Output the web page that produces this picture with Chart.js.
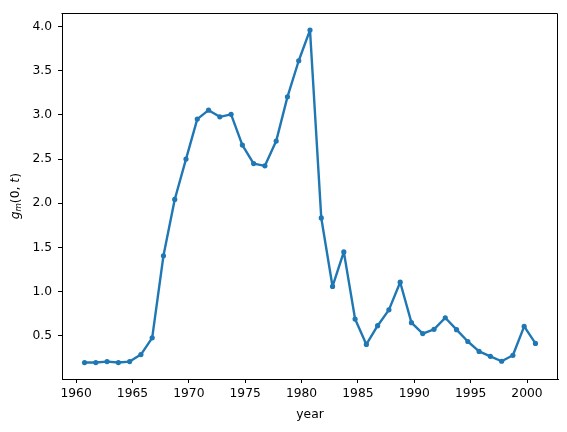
<!DOCTYPE html>
<html>
<head>
<meta charset="utf-8">
<script src="https://cdn.jsdelivr.net/npm/chart.js@4/dist/chart.umd.min.js"></script>
<style>
  html, body { margin: 0; padding: 0; background: #fff; }
  #wrap { width: 567px; height: 432px; }
</style>
</head>
<body>
<div id="wrap"><canvas id="chart" width="567" height="432"></canvas></div>
<script>
// data
const years = [1960.75, 1961.75, 1962.75, 1963.75, 1964.75, 1965.75, 1966.75, 1967.75, 1968.75, 1969.75,
               1970.75, 1971.75, 1972.75, 1973.75, 1974.75, 1975.75, 1976.75, 1977.75, 1978.75, 1979.75,
               1980.75, 1981.75, 1982.75, 1983.75, 1984.75, 1985.75, 1986.75, 1987.75, 1988.75, 1989.75,
               1990.75, 1991.75, 1992.75, 1993.75, 1994.75, 1995.75, 1996.75, 1997.75, 1998.75, 1999.75,
               2000.75];
const gm = [0.198, 0.198, 0.209, 0.198, 0.209, 0.288, 0.478, 1.406, 2.043, 2.50,
            2.952, 3.053, 2.978, 3.006, 2.658, 2.449, 2.423, 2.703, 3.204, 3.612,
            3.959, 1.834, 1.059, 1.45, 0.69, 0.403, 0.615, 0.794, 1.107, 0.649,
            0.526, 0.574, 0.705, 0.57, 0.436, 0.324, 0.268, 0.213, 0.28, 0.607,
            0.414];
const xTicks = [1960, 1965, 1970, 1975, 1980, 1985, 1990, 1995, 2000];
const yTicks = [0.5, 1.0, 1.5, 2.0, 2.5, 3.0, 3.5, 4.0];

const BLUE = '#1f77b4';
const FONT = 'DejaVu Sans';

// frame on top/right + y axis label with subscript
const extras = {
    id: 'extras',
    afterDraw(chart) {
        const { ctx, chartArea: a } = chart;
        ctx.save();
        ctx.strokeStyle = '#000';
        ctx.lineWidth = 1;
        ctx.beginPath();
        ctx.moveTo(Math.round(a.left) - 0.5, Math.round(a.top) + 0.5);
        ctx.lineTo(Math.round(a.right) - 0.5, Math.round(a.top) + 0.5);
        ctx.lineTo(Math.round(a.right) - 0.5, Math.round(a.bottom) + 0.5);
        ctx.stroke();

        // y label: g_m(0, t)
        ctx.translate(16, (a.top + a.bottom) / 2);
        ctx.rotate(-Math.PI / 2);
        ctx.fillStyle = '#000';
        ctx.textBaseline = 'middle';
        const parts = [
            { t: 'g', f: 'italic 12.3px ' + FONT, dy: 0 },
            { t: 'm', f: 'italic 8.6px ' + FONT, dy: 3 },
            { t: '(0, ', f: '12.3px ' + FONT, dy: 0 },
            { t: 't', f: 'italic 12.3px ' + FONT, dy: 0 },
            { t: ')', f: '12.3px ' + FONT, dy: 0 }
        ];
        let w = 0;
        parts.forEach(p => { ctx.font = p.f; p.w = ctx.measureText(p.t).width; w += p.w; });
        let x = -w / 2;
        parts.forEach(p => {
            ctx.font = p.f;
            ctx.fillText(p.t, x, p.dy);
            x += p.w;
        });
        ctx.restore();
    }
};

const tickFont = { family: FONT, size: 12.3 };

new Chart(document.getElementById('chart'), {
    type: 'line',
    data: {
        datasets: [{
            data: years.map((y, i) => ({ x: y, y: gm[i] })),
            borderColor: BLUE,
            backgroundColor: BLUE,
            borderWidth: 2.4,
            borderJoinStyle: 'round',
            borderCapStyle: 'round',
            pointRadius: 2.6,
            pointBorderWidth: 0,
            pointBackgroundColor: BLUE,
            tension: 0,
            fill: false
        }]
    },
    options: {
        responsive: false,
        animation: false,
        devicePixelRatio: 1,
        layout: { padding: { top: 9, right: 9, left: 0, bottom: 0 } },
        plugins: { legend: { display: false }, tooltip: { enabled: false } },
        scales: {
            x: {
                type: 'linear',
                min: 1958.75,
                max: 2002.75,
                afterBuildTicks: s => { s.ticks = xTicks.map(v => ({ value: v })); },
                afterFit: s => { s.height = 53; },
                grid: { drawOnChartArea: false, tickLength: 4, tickColor: '#000', tickWidth: 1 },
                border: { color: '#000', width: 1 },
                ticks: { color: '#000', font: tickFont, padding: 3, maxRotation: 0, autoSkip: false,
                         callback: v => String(v) },
                title: { display: true, text: 'year', color: '#000', font: tickFont, padding: { top: 0, bottom: 10 } }
            },
            y: {
                min: 0.012,
                max: 4.148,
                afterBuildTicks: s => { s.ticks = yTicks.map(v => ({ value: v })); },
                afterFit: s => { s.width = 62; },
                grid: { drawOnChartArea: false, tickLength: 4, tickColor: '#000', tickWidth: 1 },
                border: { color: '#000', width: 1 },
                ticks: { color: '#000', font: tickFont, padding: 6, autoSkip: false,
                         callback: v => v.toFixed(1) }
            }
        }
    },
    plugins: [extras]
});
</script>
</body>
</html>
